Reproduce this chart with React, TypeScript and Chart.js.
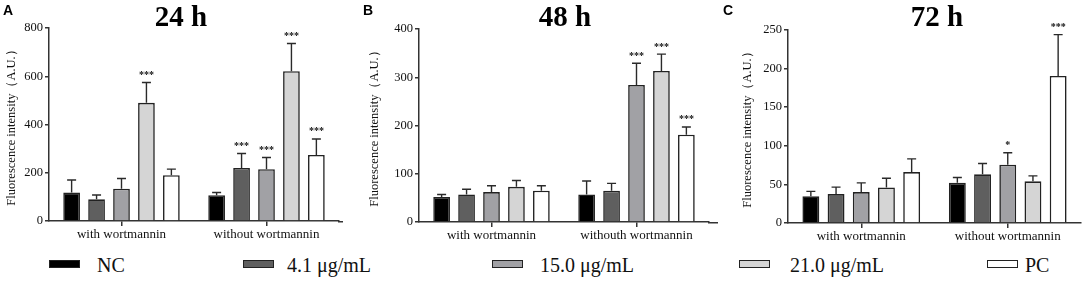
import React, { useEffect, useRef } from "react";
import { Chart, registerables } from "chart.js";
Chart.register(...registerables);

// ---------- data ----------
const SERIES = ["NC", "4.1 μg/mL", "15.0 μg/mL", "21.0 μg/mL", "PC"];
const SERIES_COLORS = ["#000000", "#5f5f5f", "#a1a1a5", "#d5d5d5", "#ffffff"];

const CATEGORIES_24H = ["with wortmannin", "without wortmannin"];
const MEAN_24H_WITH = [118, 90, 134, 490, 190];
const UPPER_24H_WITH = [170, 108, 176, 574, 215];
const MEAN_24H_WITHOUT = [107, 220, 215, 621, 274];
const UPPER_24H_WITHOUT = [118, 280, 263, 736, 340];
const STARS_24H_WITH = ["", "", "", "***", ""];
const STARS_24H_WITHOUT = ["", "***", "***", "***", "***"];
const TICKS_24H = [0, 200, 400, 600, 800];

const CATEGORIES_48H = ["with wortmannin", "withouth wortmannin"];
const MEAN_48H_WITH = [52, 57, 62, 73, 65];
const UPPER_48H_WITH = [57, 68, 75, 86, 75];
const MEAN_48H_WITHOUT = [57, 65, 284, 313, 181];
const UPPER_48H_WITHOUT = [85, 80, 329, 348, 197];
const STARS_48H_WITH = ["", "", "", "", ""];
const STARS_48H_WITHOUT = ["", "", "***", "***", "***"];
const TICKS_48H = [0, 100, 200, 300, 400];

const CATEGORIES_72H = ["with wortmannin", "without wortmannin"];
const MEAN_72H_WITH = [34.5, 37.5, 40, 46, 66];
const UPPER_72H_WITH = [41, 46.5, 52, 58, 83];
const MEAN_72H_WITHOUT = [52, 63, 75.5, 54, 190.5];
const UPPER_72H_WITHOUT = [59, 77, 91, 61, 244];
const STARS_72H_WITH = ["", "", "", "", ""];
const STARS_72H_WITHOUT = ["", "", "*", "", "***"];
const TICKS_72H = [0, 50, 100, 150, 200, 250];

const Y_TITLE = "Fluorescence intensity（A.U.）";
const SERIF = "'Liberation Serif', 'Times New Roman', serif";

// ---------- layout ----------
const H = 250;
const PANELS = [
  {
    key: "A", letter: "A", title: "24 h", left: 0, width: 360,
    plotLeft: 49, plotRight: 339, axisEnd: 343, top: 28, bottom: 221,
    titleX: 181, yTitlePad: 4,
    cats: CATEGORIES_24H, meanWith: MEAN_24H_WITH, meanWithout: MEAN_24H_WITHOUT,
    upWith: UPPER_24H_WITH, upWithout: UPPER_24H_WITHOUT,
    starsWith: STARS_24H_WITH, starsWithout: STARS_24H_WITHOUT, ticks: TICKS_24H,
  },
  {
    key: "B", letter: "B", title: "48 h", left: 360, width: 360,
    plotLeft: 59, plotRight: 349, axisEnd: 358, top: 29, bottom: 222,
    titleX: 205, yTitlePad: 7.5,
    cats: CATEGORIES_48H, meanWith: MEAN_48H_WITH, meanWithout: MEAN_48H_WITHOUT,
    upWith: UPPER_48H_WITH, upWithout: UPPER_48H_WITHOUT,
    starsWith: STARS_48H_WITH, starsWithout: STARS_48H_WITHOUT, ticks: TICKS_48H,
  },
  {
    key: "C", letter: "C", title: "72 h", left: 720, width: 364,
    plotLeft: 68, plotRight: 361, axisEnd: 361, top: 30, bottom: 223,
    titleX: 217, yTitlePad: 20.5,
    cats: CATEGORIES_72H, meanWith: MEAN_72H_WITH, meanWithout: MEAN_72H_WITHOUT,
    upWith: UPPER_72H_WITH, upWithout: UPPER_72H_WITHOUT,
    starsWith: STARS_72H_WITH, starsWithout: STARS_72H_WITHOUT, ticks: TICKS_72H,
  },
];

const LEGEND_BOX_X = [49, 243, 492, 739, 987];
const LEGEND_TEXT_X = [97, 287, 540, 790, 1025];

// ---------- plugins ----------
const errorBarPlugin = {
  id: "errorBars",
  afterDatasetsDraw(chart: any) {
    const ctx = chart.ctx;
    const y = chart.scales.y;
    chart.data.datasets.forEach((ds: any, i: number) => {
      const meta = chart.getDatasetMeta(i);
      meta.data.forEach((bar: any, j: number) => {
        const top = y.getPixelForValue(ds.upper[j]);
        ctx.save();
        ctx.strokeStyle = "#2a2a2a";
        ctx.lineWidth = 1.4;
        ctx.beginPath();
        ctx.moveTo(bar.x, bar.y);
        ctx.lineTo(bar.x, top);
        ctx.moveTo(bar.x - 4.5, top);
        ctx.lineTo(bar.x + 4.5, top);
        ctx.stroke();
        const s = ds.stars[j];
        if (s) {
          ctx.fillStyle = "#111";
          ctx.font = `bold 10px ${SERIF}`;
          ctx.textAlign = "center";
          ctx.textBaseline = "alphabetic";
          ctx.fillText(s, bar.x, top - 4.5);
        }
        ctx.restore();
      });
    });
  },
};

const decoPlugin = {
  id: "panelDeco",
  afterDraw(chart: any, _args: any, opts: any) {
    const ctx = chart.ctx;
    const area = chart.chartArea;
    ctx.save();
    if (opts.axisEnd > area.right) {
      ctx.strokeStyle = "#333";
      ctx.lineWidth = 1.5;
      ctx.beginPath();
      ctx.moveTo(area.right - 1, area.bottom + 0.75);
      ctx.lineTo(opts.axisEnd, area.bottom + 0.75);
      ctx.stroke();
    }
    ctx.fillStyle = "#000";
    ctx.font = `bold 29px ${SERIF}`;
    ctx.textAlign = "center";
    ctx.textBaseline = "alphabetic";
    ctx.fillText(opts.title, opts.titleX, 26);
    ctx.font = "bold 14px 'Liberation Sans', Arial, sans-serif";
    ctx.textAlign = "left";
    ctx.fillText(opts.letter, 3, 15);
    ctx.restore();
  },
};

function Panel({ p }: { p: any }) {
  const ref = useRef<HTMLCanvasElement | null>(null);
  useEffect(() => {
    if (!ref.current) return;
    const datasets = SERIES.map((name, i) => ({
      label: name,
      data: [p.meanWith[i], p.meanWithout[i]],
      upper: [p.upWith[i], p.upWithout[i]],
      stars: [p.starsWith[i], p.starsWithout[i]],
      backgroundColor: SERIES_COLORS[i],
      borderColor: "#222",
      borderWidth: 1.6,
      categoryPercentage: 0.86,
      barPercentage: 0.67,
    }));
    const chart = new Chart(ref.current, {
      type: "bar",
      data: { labels: p.cats, datasets: datasets as any },
      options: {
        animation: false,
        responsive: false,
        layout: {
          padding: { left: 0, top: p.top, right: p.width - p.plotRight, bottom: 0 },
        },
        plugins: {
          legend: { display: false },
          tooltip: { enabled: false },
          title: { display: false },
          panelDeco: { title: p.title, titleX: p.titleX, letter: p.letter, axisEnd: p.axisEnd },
        } as any,
        scales: {
          x: {
            type: "category",
            border: { display: true, color: "#333", width: 1.5 },
            grid: {
              display: true,
              offset: false,
              drawOnChartArea: false,
              drawTicks: true,
              tickLength: 5,
              color: "#333",
              lineWidth: 1.5,
            },
            ticks: {
              color: "#111",
              font: { family: SERIF, size: 13 },
              padding: 1,
              maxRotation: 0,
              autoSkip: false,
            },
            afterFit: (scale: any) => {
              scale.height = H - p.bottom;
            },
          },
          y: {
            type: "linear",
            min: p.ticks[0],
            max: p.ticks[p.ticks.length - 1],
            border: { display: true, color: "#333", width: 1.5 },
            grid: {
              display: true,
              drawOnChartArea: false,
              drawTicks: true,
              tickLength: 4,
              color: "#333",
              lineWidth: 1.5,
            },
            ticks: {
              color: "#111",
              font: { family: SERIF, size: 12.5 },
              padding: 2,
            },
            afterBuildTicks: (scale: any) => {
              scale.ticks = p.ticks.map((v: number) => ({ value: v }));
            },
            title: {
              display: true,
              text: Y_TITLE,
              color: "#111",
              font: { family: SERIF, size: 12.5 },
              padding: { top: p.yTitlePad, bottom: 0 },
            },
            afterFit: (scale: any) => {
              scale.width = p.plotLeft;
            },
          },
        },
      },
      plugins: [errorBarPlugin, decoPlugin],
    });
    return () => chart.destroy();
  }, [p]);
  return (
    <canvas
      ref={ref}
      width={p.width}
      height={H}
      style={{ position: "absolute", left: p.left, top: 0, width: p.width, height: H, display: "block" }}
    />
  );
}

export default function App() {
  return (
    <div
      style={{
        position: "absolute",
        left: 0,
        top: 0,
        width: 1084,
        height: 282,
        background: "#fff",
        overflow: "hidden",
      }}
    >
      {PANELS.map((p) => (
        <Panel key={p.key} p={p} />
      ))}
      {SERIES.map((name, i) => (
        <React.Fragment key={name}>
          <div
            style={{
              position: "absolute",
              left: LEGEND_BOX_X[i],
              top: 260,
              width: 31,
              height: 8,
              boxSizing: "border-box",
              border: "1.5px solid #222",
              background: SERIES_COLORS[i],
            }}
          />
          <div
            style={{
              position: "absolute",
              left: LEGEND_TEXT_X[i],
              top: 255,
              fontFamily: SERIF,
              fontSize: 20,
              lineHeight: "20px",
              color: "#111",
              whiteSpace: "nowrap",
            }}
          >
            {name}
          </div>
        </React.Fragment>
      ))}
    </div>
  );
}
